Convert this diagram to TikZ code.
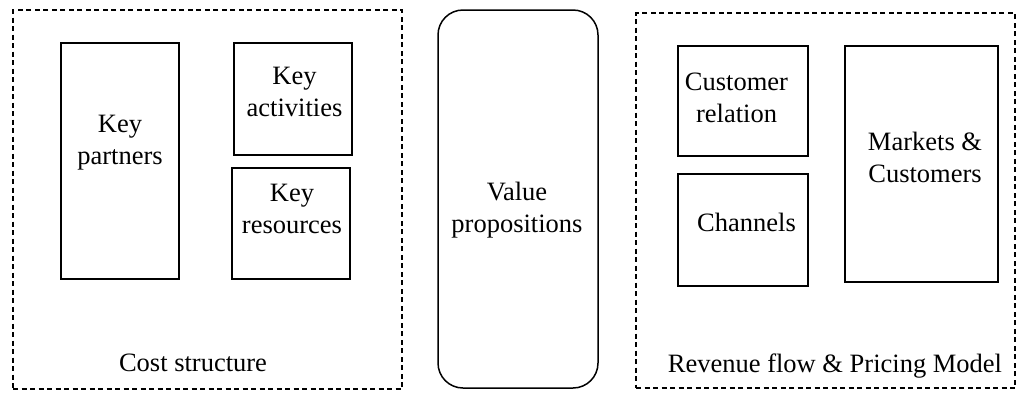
\documentclass[tikz,border=0pt]{standalone}
\usepackage{fontspec}
\setmainfont{Liberation Serif}
\begin{document}
\begin{tikzpicture}[x=1pt, y=-1pt,
  every node/.style={inner sep=0pt, outer sep=0pt},
  blockbox/.style={draw, line width=1.6pt, rectangle},
  groupbox/.style={draw, line width=1.4pt, dash pattern=on 5pt off 3.5pt, rectangle},
  valuebox/.style={draw, line width=1.5pt, rectangle, rounded corners=25pt},
  lbl/.style={align=center, font=\fontsize{26.5}{32}\selectfont}]
  \useasboundingbox (0,0) rectangle (1016,392);

  % dashed groups
  \node[groupbox, minimum width=389pt, minimum height=379pt] (cost) at (207.5,199.5) {};
  \node[groupbox, minimum width=379pt, minimum height=375pt] (rev) at (825.5,200.5) {};

  % left group blocks
  \node[blockbox, minimum width=118pt, minimum height=236pt] (kp) at (120,161) {};
  \node[blockbox, minimum width=118pt, minimum height=112pt] (ka) at (293,99) {};
  \node[blockbox, minimum width=118pt, minimum height=111pt] (kr) at (291,223.5) {};

  % centre block
  \node[valuebox, minimum width=160pt, minimum height=378pt] (vp) at (518,199) {};

  % right group blocks
  \node[blockbox, minimum width=130pt, minimum height=110pt] (cr) at (743,101) {};
  \node[blockbox, minimum width=130pt, minimum height=112pt] (ch) at (743,230) {};
  \node[blockbox, minimum width=153pt, minimum height=236pt] (mc) at (921.5,164) {};

  % labels
  \node[lbl] (kpt) at (120,142.2) {Key\\partners};
  \node[lbl] (kat) at (294.5,92.2) {Key\\activities};
  \node[lbl] (krt) at (292,208.9) {Key\\resources};
  \node[lbl] (costt) at (193,363.2) {Cost structure};
  \node[lbl] (vpt) at (517,210) {Value\\propositions};
  \node[lbl] (crt) at (736.5,97.9) {Customer\\relation};
  \node[lbl] (cht) at (746.5,222.9) {Channels};
  \node[lbl] (mct) at (925,157.4) {Markets \&\\Customers};
  \node[lbl] (revt) at (835,366) {Revenue flow \& Pricing Model};
\end{tikzpicture}
\end{document}
